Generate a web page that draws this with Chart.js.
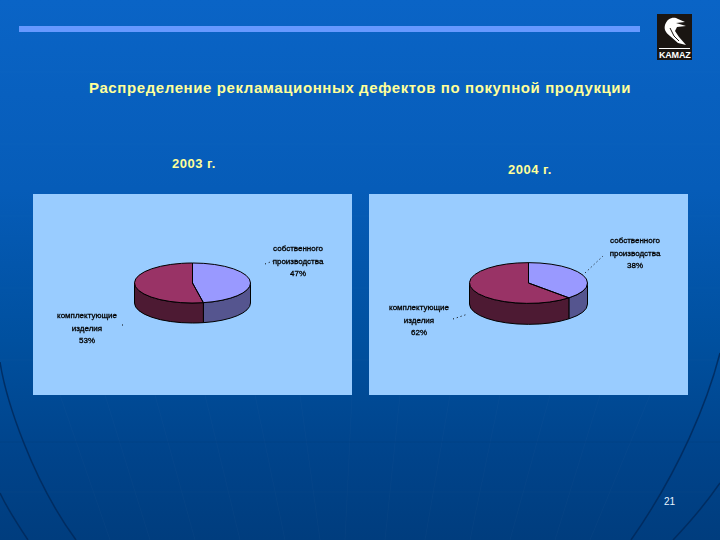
<!DOCTYPE html>
<html lang="ru">
<head>
  <meta charset="UTF-8">
  <title>Распределение рекламационных дефектов</title>
  <script src="https://cdn.jsdelivr.net/npm/chart.js"></script>
  <style>
    html, body { margin: 0; padding: 0; }
    body {
      width: 720px; height: 540px; position: relative; overflow: hidden;
      background: linear-gradient(to bottom, #0a64c6 0%, #065cb8 35%, #00509f 63%, #00438a 85%, #003d7e 100%);
      font-family: "Liberation Sans", Arial, sans-serif;
    }
    .abs { position: absolute; }
    #bar { left: 19px; top: 26px; width: 621px; height: 6px; background: #6699ff; }
    #title { left: 0; width: 720px; top: 79px; text-align: center; font-size: 15px; line-height: 17px; font-weight: bold; color: #ffff99; letter-spacing: .6px; white-space: nowrap; }
    .year { font-size: 13px; font-weight: bold; color: #ffff99; letter-spacing: .5px; }
    .panel { background: #99ccff; }
    #logo { left: 657px; top: 14px; width: 35px; height: 46px; background: #1a1512; color: #fff; font-size: 9px; font-weight: bold; text-align: center; overflow: hidden; }
    #page { left: 664px; top: 496px; font-size: 10px; color: #e8f4ff; }
    #bg { left: 0; top: 0; }
  </style>
</head>
<body>
  <svg id="bg" class="abs" width="720" height="540">
    <g stroke="#ffffff" stroke-opacity=".02" fill="none">
      <path d="M0 72H720M0 144H720M0 216H720M0 288H720M0 360H720M0 492H720"/>
      <path d="M60 395L110 540M105 395L150 540M155 395L195 540M205 395L240 540M255 395L285 540M300 395L320 540M352 395L345 540M400 395L385 540M450 395L425 540M500 395L470 540M550 395L510 540M600 395L555 540M650 395L590 540"/>
    </g>
    <path d="M0 442H720" stroke="#003a78" stroke-opacity=".35" fill="none"/>
    <g stroke="#002a5c" stroke-width="1.5" fill="none" opacity=".85">
      <path d="M0 362C6 400 32 480 76 540"/>
      <path d="M720 353C708 400 680 470 631 540"/>
      <path d="M0 493C8 510 18 525 28 540"/>
      <path d="M720 483C705 505 690 522 673 540"/>
    </g>
  </svg>
  <div id="bar" class="abs"></div>
  <div id="logo" class="abs">
    <svg width="35" height="33" style="display:block">
      <path d="M8 11C10 4 17 2 21 5L28 8L19 9L29 12L20 13L18 17L22 23L29 31L21 29L13 22C8 18 7 15 8 11Z" fill="#ffffff"/>
      <path d="M13 14L17 22L22 27" stroke="#1a1512" stroke-width="1" fill="none"/>
    </svg>
    <div style="border-top:1px solid #fff;margin:1px 2px 0;padding-top:2px;line-height:9px;letter-spacing:-.2px">KAMAZ</div>
  </div>
  <div id="title" class="abs">Распределение рекламационных дефектов по покупной продукции</div>
  <div class="abs year" style="left:172px;top:156px">2003 г.</div>
  <div class="abs year" style="left:508px;top:162px">2004 г.</div>
  <div class="abs panel" style="left:33px;top:194px;width:319px;height:201px"><canvas id="pie2003" width="319" height="201"></canvas></div>
  <div class="abs panel" style="left:369px;top:194px;width:319px;height:201px"><canvas id="pie2004" width="319" height="201"></canvas></div>
  <div id="page" class="abs">21</div>

  <script>
    const categories = ['собственного производства', 'комплектующие изделия'];
    const values2003 = [47, 53];
    const values2004 = [38, 62];
    const topColors = ['#9999ff', '#993366'];
    const sideColors = ['#55558f', '#4d1a33'];

    // сплющенная "3D" круговая: дуги считает Chart.js, плагин только наклоняет их
    const tilt = 0.345;
    const tiltPlugin = {
      id: 'tilt',
      beforeDatasetsDraw(chart, args, opts) {
        const ctx = chart.ctx;
        const arcs = chart.getDatasetMeta(0).data;
        ctx.save();
        ctx.lineWidth = 1;
        ctx.strokeStyle = '#000';
        arcs.forEach(function (arc, i) {
          const ry = arc.outerRadius * tilt;
          const a = Math.max(arc.startAngle, 0);
          const b = Math.min(arc.endAngle, Math.PI);
          if (b <= a) return;
          ctx.beginPath();
          ctx.ellipse(arc.x, arc.y, arc.outerRadius, ry, 0, a, b);
          ctx.ellipse(arc.x, arc.y + opts.depth, arc.outerRadius, ry, 0, b, a, true);
          ctx.closePath();
          ctx.fillStyle = sideColors[i];
          ctx.fill();
          ctx.stroke();
        });
        ctx.restore();
        // наклон на время отрисовки самих секторов
        const cy = arcs[0].y;
        ctx.save();
        ctx.translate(0, cy);
        ctx.scale(1, tilt);
        ctx.translate(0, -cy);
      },
      afterDatasetsDraw(chart, args, opts) {
        const ctx = chart.ctx;
        ctx.restore();
        const arcs = chart.getDatasetMeta(0).data;
        ctx.save();
        ctx.lineWidth = 1;
        ctx.strokeStyle = '#000';
        arcs.forEach(function (arc) {
          const ry = arc.outerRadius * tilt;
          ctx.beginPath();
          ctx.moveTo(arc.x, arc.y);
          ctx.ellipse(arc.x, arc.y, arc.outerRadius, ry, 0, arc.startAngle, arc.endAngle);
          ctx.closePath();
          ctx.stroke();
        });
        // подписи и выноски
        ctx.fillStyle = '#000';
        ctx.font = '8px "Liberation Sans", Arial, sans-serif';
        ctx.textAlign = 'center';
        opts.labels.forEach(function (l) {
          l.lines.forEach(function (line, j) {
            ctx.lineWidth = 0.3;
            ctx.strokeText(line, l.x, l.y + j * 12.5);
            ctx.fillText(line, l.x, l.y + j * 12.5);
          });
          ctx.lineWidth = 1;
          ctx.beginPath();
          ctx.setLineDash([1, 3]);
          ctx.moveTo(l.leader[0], l.leader[1]);
          ctx.lineTo(l.leader[2], l.leader[3]);
          ctx.stroke();
          ctx.setLineDash([]);
        });
        ctx.restore();
      }
    };

    function makePie(id, values, radius, depth, bottomPad, labels) {
      new Chart(document.getElementById(id), {
        type: 'pie',
        data: {
          labels: categories,
          datasets: [{ data: values, backgroundColor: topColors, borderWidth: 0 }]
        },
        options: {
          responsive: false,
          animation: false,
          radius: radius,
          layout: { padding: { bottom: bottomPad } },
          plugins: {
            legend: { display: false },
            tooltip: { enabled: false },
            tilt: { depth: depth, labels: labels }
          }
        },
        plugins: [tiltPlugin]
      });
    }

    makePie('pie2003', values2003, 58, 20, 23, [
      { lines: ['собственного', 'производства', values2003[0] + '%'], x: 265, y: 57, leader: [232, 70, 240, 67] },
      { lines: ['комплектующие', 'изделия', values2003[1] + '%'], x: 54, y: 124, leader: [89, 131, 90, 131] }
    ]);
    makePie('pie2004', values2004, 59, 21, 23, [
      { lines: ['собственного', 'производства', values2004[0] + '%'], x: 266, y: 49, leader: [216, 79, 234, 62] },
      { lines: ['комплектующие', 'изделия', values2004[1] + '%'], x: 50, y: 116, leader: [84, 125, 99, 120] }
    ]);
  </script>
</body>
</html>
